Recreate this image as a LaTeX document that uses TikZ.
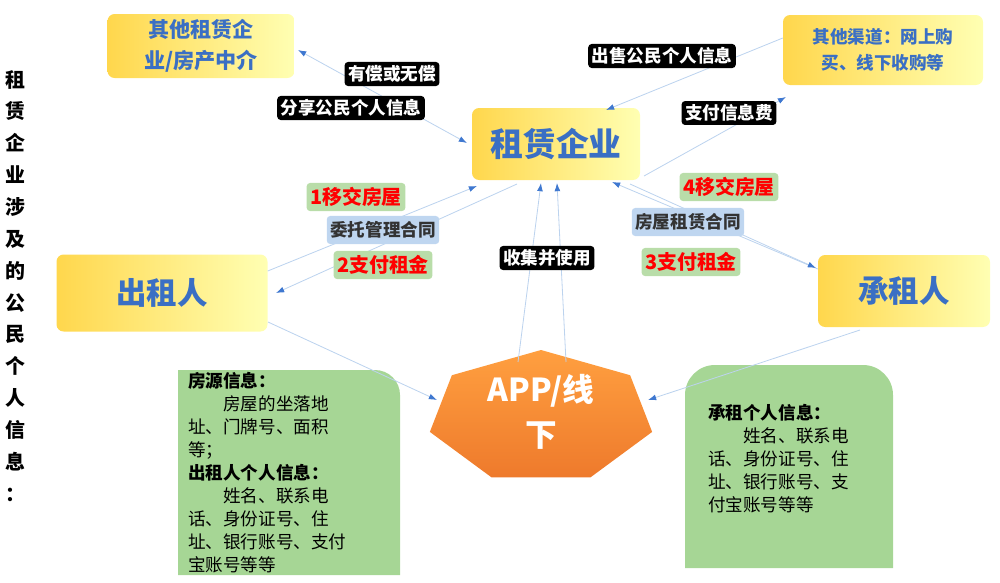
\documentclass[tikz,border=0pt]{standalone}
\usepackage{fontspec}
\setmainfont{Noto Sans CJK SC}
\usetikzlibrary{shapes.geometric, positioning, arrows.meta}

\definecolor{titleblue}{HTML}{3A6FC4}
\definecolor{linkblue}{HTML}{BCD3EE}
\definecolor{tipblue}{HTML}{3F78D0}
\definecolor{boxgreen}{HTML}{A6D695}
\definecolor{tagblue}{HTML}{BFD6F0}
\definecolor{taggreen}{HTML}{B9DDA9}
\definecolor{orangedark}{HTML}{EE7A2C}

\tikzset{
  party/.style={rounded corners=6, left color=orange!45!yellow!70, right color=yellow!30, draw=none,
                font=\bfseries\color{titleblue}, align=center},
  blacktag/.style={fill=black, rounded corners=3, text=white, font=\bfseries\fontsize{15}{17}\selectfont,
                   inner sep=3pt, minimum height=20},
  greentag/.style={fill=taggreen, rounded corners=3, text=red, font=\bfseries\fontsize{17}{19}\selectfont,
                   inner sep=3pt, minimum height=24},
  bluetag/.style={fill=tagblue, rounded corners=3, text=black!80, font=\bfseries\fontsize{15}{17}\selectfont,
                  inner sep=3pt, minimum height=24},
  link/.style={draw=linkblue, line width=0.7pt, -{Latex[length=7pt,width=5pt,color=tipblue]}},
  infobox/.style={fill=boxgreen, draw=none},
}

\begin{document}
\begin{tikzpicture}[x=0.03cm, y=-0.03cm]
\useasboundingbox (0,0) rectangle (1000,582);

% left title
\node[font=\bfseries\fontsize{17}{27.2}\selectfont, align=center, anchor=north] (title) at (15,66)
  {租\\赁\\企\\业\\涉\\及\\的\\公\\民\\个\\人\\信\\息\\：};

% parties
\node[party, minimum width=187*0.03cm, minimum height=64*0.03cm, font=\bfseries\color{titleblue}\fontsize{18}{26}\selectfont]
  (other) at (201,46) {其他租赁企\\业/房产中介};
\node[party, minimum width=200*0.03cm, minimum height=70*0.03cm, font=\bfseries\color{titleblue}\fontsize{15}{22}\selectfont]
  (channel) at (883,50) {其他渠道：网上购\\买、线下收购等};
\node[party, minimum width=168*0.03cm, minimum height=72*0.03cm, font=\bfseries\color{titleblue}\fontsize{28}{30}\selectfont]
  (firm) at (556,144) {租赁企业};
\node[party, minimum width=211*0.03cm, minimum height=77*0.03cm, font=\bfseries\color{titleblue}\fontsize{26}{30}\selectfont]
  (lessor) at (162,293) {出租人};
\node[party, minimum width=172*0.03cm, minimum height=72*0.03cm, font=\bfseries\color{titleblue}\fontsize{26}{30}\selectfont]
  (tenant) at (904,291) {承租人};

% APP / offline
\shade[top color=orange!75, bottom color=orangedark]
  plot[samples at={0,...,6}] ({541+114*cos(90+\x*360/7)},{417-67*sin(90+\x*360/7)}) -- cycle;
\node[font=\bfseries\fontsize{27}{38}\selectfont, text=white, align=center] (app) at (541,412) {APP/线\\下};

% information boxes
\path[infobox] (178,370) -- (375,370) to[out=0,in=90] (400,395) -- (400,575) -- (178,575) -- cycle;
\node[anchor=north west, align=left, font=\fontsize{15}{19.6}\selectfont] (lessorinfo) at (184,368)
  {\textbf{房源信息：}\\
   \hspace*{2em}房屋的坐落地\\址、门牌号、面积\\等；\\
   \textbf{出租人个人信息：}\\
   \hspace*{2em}姓名、联系电\\话、身份证号、住\\址、银行账号、支付\\宝账号等等};
\path[infobox] (685,568) -- (685,395) to[out=90,in=180] (715,365) -- (863,365) to[out=0,in=90] (893,395) -- (893,568) -- cycle;
\node[anchor=north west, align=left, font=\fontsize{15}{19.6}\selectfont] (tenantinfo) at (704,400)
  {\textbf{承租个人信息：}\\
   \hspace*{2em}姓名、联系电\\话、身份证号、住\\址、银行账号、支\\付宝账号等等};

% connectors
\coordinate (firmtl) at (467,143);
\coordinate (othbr) at (298,50);
\draw[link, {Latex[length=7pt,width=5pt,color=tipblue]}-{Latex[length=7pt,width=5pt,color=tipblue]}] (othbr) -- (firmtl);
\draw[link] (channel.west) ++(0,-12) -- (606,110);
\draw[link] (644,176) -- (786,97);
\draw[link] (lessor.east) ++(0,-22) -- (477,186);
\draw[link] (517,184) -- (276,293);
\draw[link] (tenant.west) ++(0,-22) -- (612,182);
\draw[link] (630,184) -- (816,268);
\draw[link] (518,362) -- (541,183);
\draw[link] (566,362) -- (557,183);
\draw[link] (268,322) -- (437,400);
\draw[link] (860,330) -- (648,400);

% tags
\node[blacktag] (paid) at (392,74) {有偿或无偿};
\node[blacktag] (share) at (351,108) {分享公民个人信息};
\node[blacktag] (sell) at (662,56) {出售公民个人信息};
\node[blacktag] (fee) at (729,113) {支付信息费};
\node[blacktag] (collect) at (547,258) {收集并使用};
\node[greentag] (hand1) at (356,197) {1移交房屋};
\node[bluetag] (entrust) at (383,230) {委托管理合同};
\node[greentag] (rent2) at (383,265) {2支付租金};
\node[greentag] (hand4) at (729,187) {4移交房屋};
\node[bluetag] (lease) at (688,222) {房屋租赁合同};
\node[greentag] (rent3) at (691,262) {3支付租金};
\end{tikzpicture}
\end{document}
